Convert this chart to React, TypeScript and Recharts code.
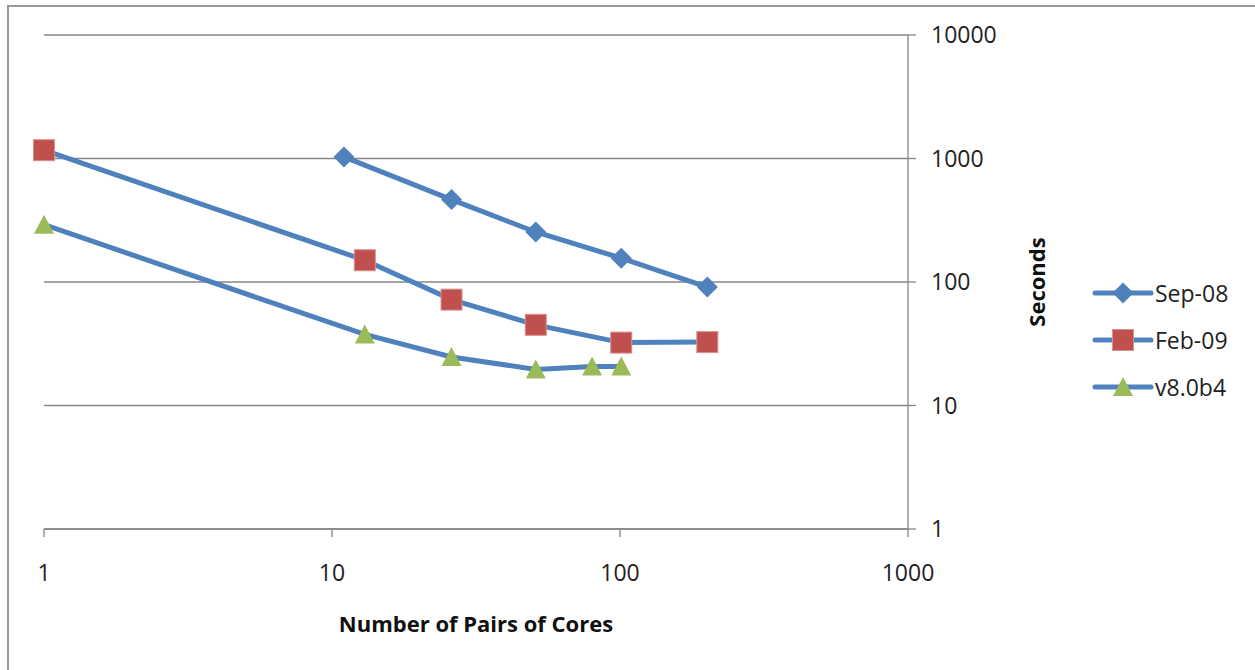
import React from "react";
import { ScatterChart, Scatter, XAxis, YAxis, CartesianGrid, Label, Legend } from "recharts";

// number of pairs of cores / seconds
const sep08Cores = [11, 26, 51, 101, 201];
const sep08Secs = [1030, 465, 254, 156, 91];
const feb09Cores = [1, 13, 26, 51, 101, 201];
const feb09Secs = [1167, 150, 72, 45, 32.3, 32.6];
const v80b4Cores = [1, 13, 26, 51, 80, 101];
const v80b4Secs = [291, 37.6, 24.7, 19.6, 20.7, 20.7];

const seriesNames = ["Sep-08", "Feb-09", "v8.0b4"];
const xTicks = [1, 10, 100, 1000];
const yTicks = [1, 10, 100, 1000, 10000];

const LINE = "#4F81BD";
const AXIS = "#868686";
const FONT = "'Open Sans', sans-serif";

const zip = (xs: number[], ys: number[]) => xs.map((x, i) => ({ x, y: ys[i] }));

const Diamond = ({ cx, cy }: any) => (
    <path d={`M${cx},${cy - 10.5}L${cx + 10.5},${cy}L${cx},${cy + 10.5}L${cx - 10.5},${cy}Z`} fill="#4F81BD" />
);
const Square = ({ cx, cy }: any) => (
    <rect x={cx - 10.5} y={cy - 10.5} width={21} height={21} fill="#C0504D" stroke="#D8908E" strokeWidth={1} />
);
const Triangle = ({ cx, cy }: any) => (
    <path d={`M${cx},${cy - 10}L${cx + 10},${cy + 9}L${cx - 10},${cy + 9}Z`} fill="#9BBB59" />
);

const markers = [Diamond, Square, Triangle];

function LegendBox() {
    return (
        <div style={{ fontFamily: FONT, fontSize: 23, color: "#222" }}>
            {seriesNames.map((name, i) => {
                const Marker = markers[i];
                return (
                    <div key={name} style={{ display: "flex", alignItems: "center", height: 47 }}>
                        <svg width={58} height={24} style={{ overflow: "visible" }}>
                            <line x1={1} y1={12} x2={57} y2={12} stroke={LINE} strokeWidth={5} strokeLinecap="round" />
                            <Marker cx={29} cy={12} />
                        </svg>
                        <span style={{ marginLeft: 3 }}>{name}</span>
                    </div>
                );
            })}
        </div>
    );
}

export default function App() {
    const series = [zip(sep08Cores, sep08Secs), zip(feb09Cores, feb09Secs), zip(v80b4Cores, v80b4Secs)];
    return (
        <div style={{ position: "absolute", left: 0, top: 0, width: 1255, height: 670, background: "#fff" }}>
            {/* outer frame, only top and left edges show */}
            <div
                style={{
                    position: "absolute",
                    left: 7,
                    top: 5,
                    width: 1260,
                    height: 680,
                    borderTop: "2px solid #999",
                    borderLeft: "2px solid #999",
                }}
            />
            <ScatterChart width={1255} height={670} margin={{ top: 35, right: 89, bottom: 0, left: 44 }}>
                <CartesianGrid vertical={false} stroke={AXIS} strokeWidth={1.3} />
                <XAxis
                    type="number"
                    dataKey="x"
                    scale="log"
                    domain={[1, 1000]}
                    ticks={xTicks}
                    height={141}
                    stroke={AXIS}
                    strokeWidth={1.3}
                    tickSize={8}
                    tickMargin={28}
                    tick={{ fill: "#222", fontSize: 23, fontFamily: FONT }}
                >
                    <Label
                        value="Number of Pairs of Cores"
                        position="insideBottom"
                        offset={38}
                        style={{ fontFamily: FONT, fontSize: 22, fontWeight: 700, fill: "#111" }}
                    />
                </XAxis>
                <YAxis
                    type="number"
                    dataKey="y"
                    scale="log"
                    orientation="right"
                    domain={[1, 10000]}
                    ticks={yTicks}
                    width={258}
                    stroke={AXIS}
                    strokeWidth={1.3}
                    tickSize={8}
                    tickMargin={15}
                    tick={{ fill: "#222", fontSize: 23, fontFamily: FONT }}
                >
                    <Label
                        value="Seconds"
                        angle={-90}
                        position="center"
                        style={{ fontFamily: FONT, fontSize: 22, fontWeight: 700, fill: "#111" }}
                    />
                </YAxis>
                {series.map((data, i) => {
                    const Marker = markers[i];
                    return (
                        <Scatter
                            key={seriesNames[i]}
                            name={seriesNames[i]}
                            data={data}
                            line={{ stroke: LINE, strokeWidth: 5 }}
                            shape={(p: any) => <Marker cx={p.cx} cy={p.cy} />}
                            isAnimationActive={false}
                        />
                    );
                })}
                <Legend
                    layout="vertical"
                    align="center"
                    verticalAlign="middle"
                    content={() => <LegendBox />}
                    wrapperStyle={{ position: "absolute", left: 1094, top: 269, width: 160 }}
                />
            </ScatterChart>
        </div>
    );
}
